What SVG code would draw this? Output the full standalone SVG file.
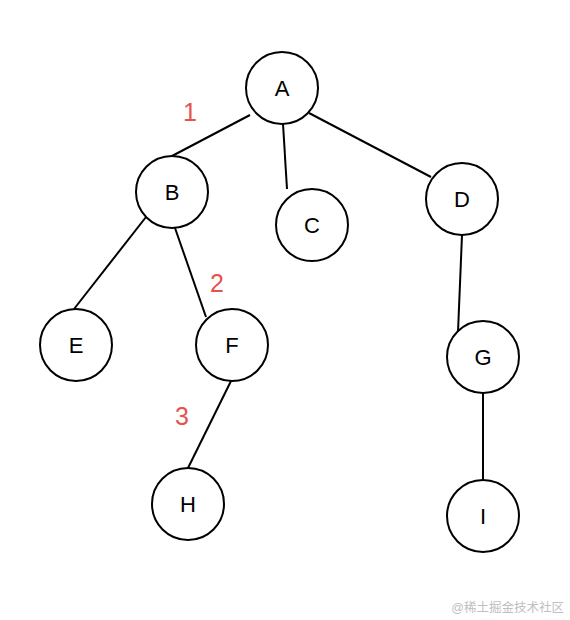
<svg xmlns="http://www.w3.org/2000/svg" width="570" height="620" viewBox="0 0 570 620">
<style>
.n circle{fill:#fff;stroke:#000;stroke-width:2}
.n text{font-family:"Liberation Sans",Arial,sans-serif;font-size:22px;fill:#000;text-anchor:middle;dominant-baseline:central}
.e line{stroke:#000;stroke-width:2}
.lbl{font-family:"Liberation Sans",Arial,sans-serif;font-size:25px;fill:#e5534b;text-anchor:middle;dominant-baseline:central}
.wm{font-family:"Liberation Sans","Noto Sans CJK SC",sans-serif;font-size:12.5px;fill:#c0c0c0;text-anchor:end}
</style>
<rect width="570" height="620" fill="#fff"/>
<g id="connectors" class="e">
<line x1="250" y1="115" x2="172" y2="156"/>
<line x1="283" y1="124" x2="287" y2="189"/>
<line x1="309" y1="113" x2="431" y2="177"/>
<line x1="146" y1="217" x2="74" y2="309"/>
<line x1="175" y1="228" x2="206" y2="317"/>
<line x1="231" y1="381" x2="188" y2="468"/>
<line x1="462" y1="235" x2="458" y2="332"/>
<line x1="483" y1="393" x2="483" y2="480"/>
</g>
<g id="A" class="n"><circle cx="282" cy="88" r="36"/><text x="282" y="88">A</text></g>
<g id="B" class="n"><circle cx="172" cy="192" r="36"/><text x="172" y="192">B</text></g>
<g id="C" class="n"><circle cx="312" cy="225" r="36"/><text x="312" y="225">C</text></g>
<g id="D" class="n"><circle cx="462" cy="199" r="36"/><text x="462" y="199">D</text></g>
<g id="E" class="n"><circle cx="76" cy="345" r="36"/><text x="76" y="345">E</text></g>
<g id="F" class="n"><circle cx="232" cy="345" r="36"/><text x="232" y="345">F</text></g>
<g id="G" class="n"><circle cx="483" cy="357" r="36"/><text x="483" y="357">G</text></g>
<g id="H" class="n"><circle cx="188" cy="504" r="36"/><text x="188" y="504">H</text></g>
<g id="I" class="n"><circle cx="483" cy="516" r="36"/><text x="483" y="516">I</text></g>
<text class="lbl" x="190" y="112">1</text>
<text class="lbl" x="217" y="283">2</text>
<text class="lbl" x="182" y="416">3</text>
<text class="wm" x="564" y="612">@稀土掘金技术社区</text>
</svg>
